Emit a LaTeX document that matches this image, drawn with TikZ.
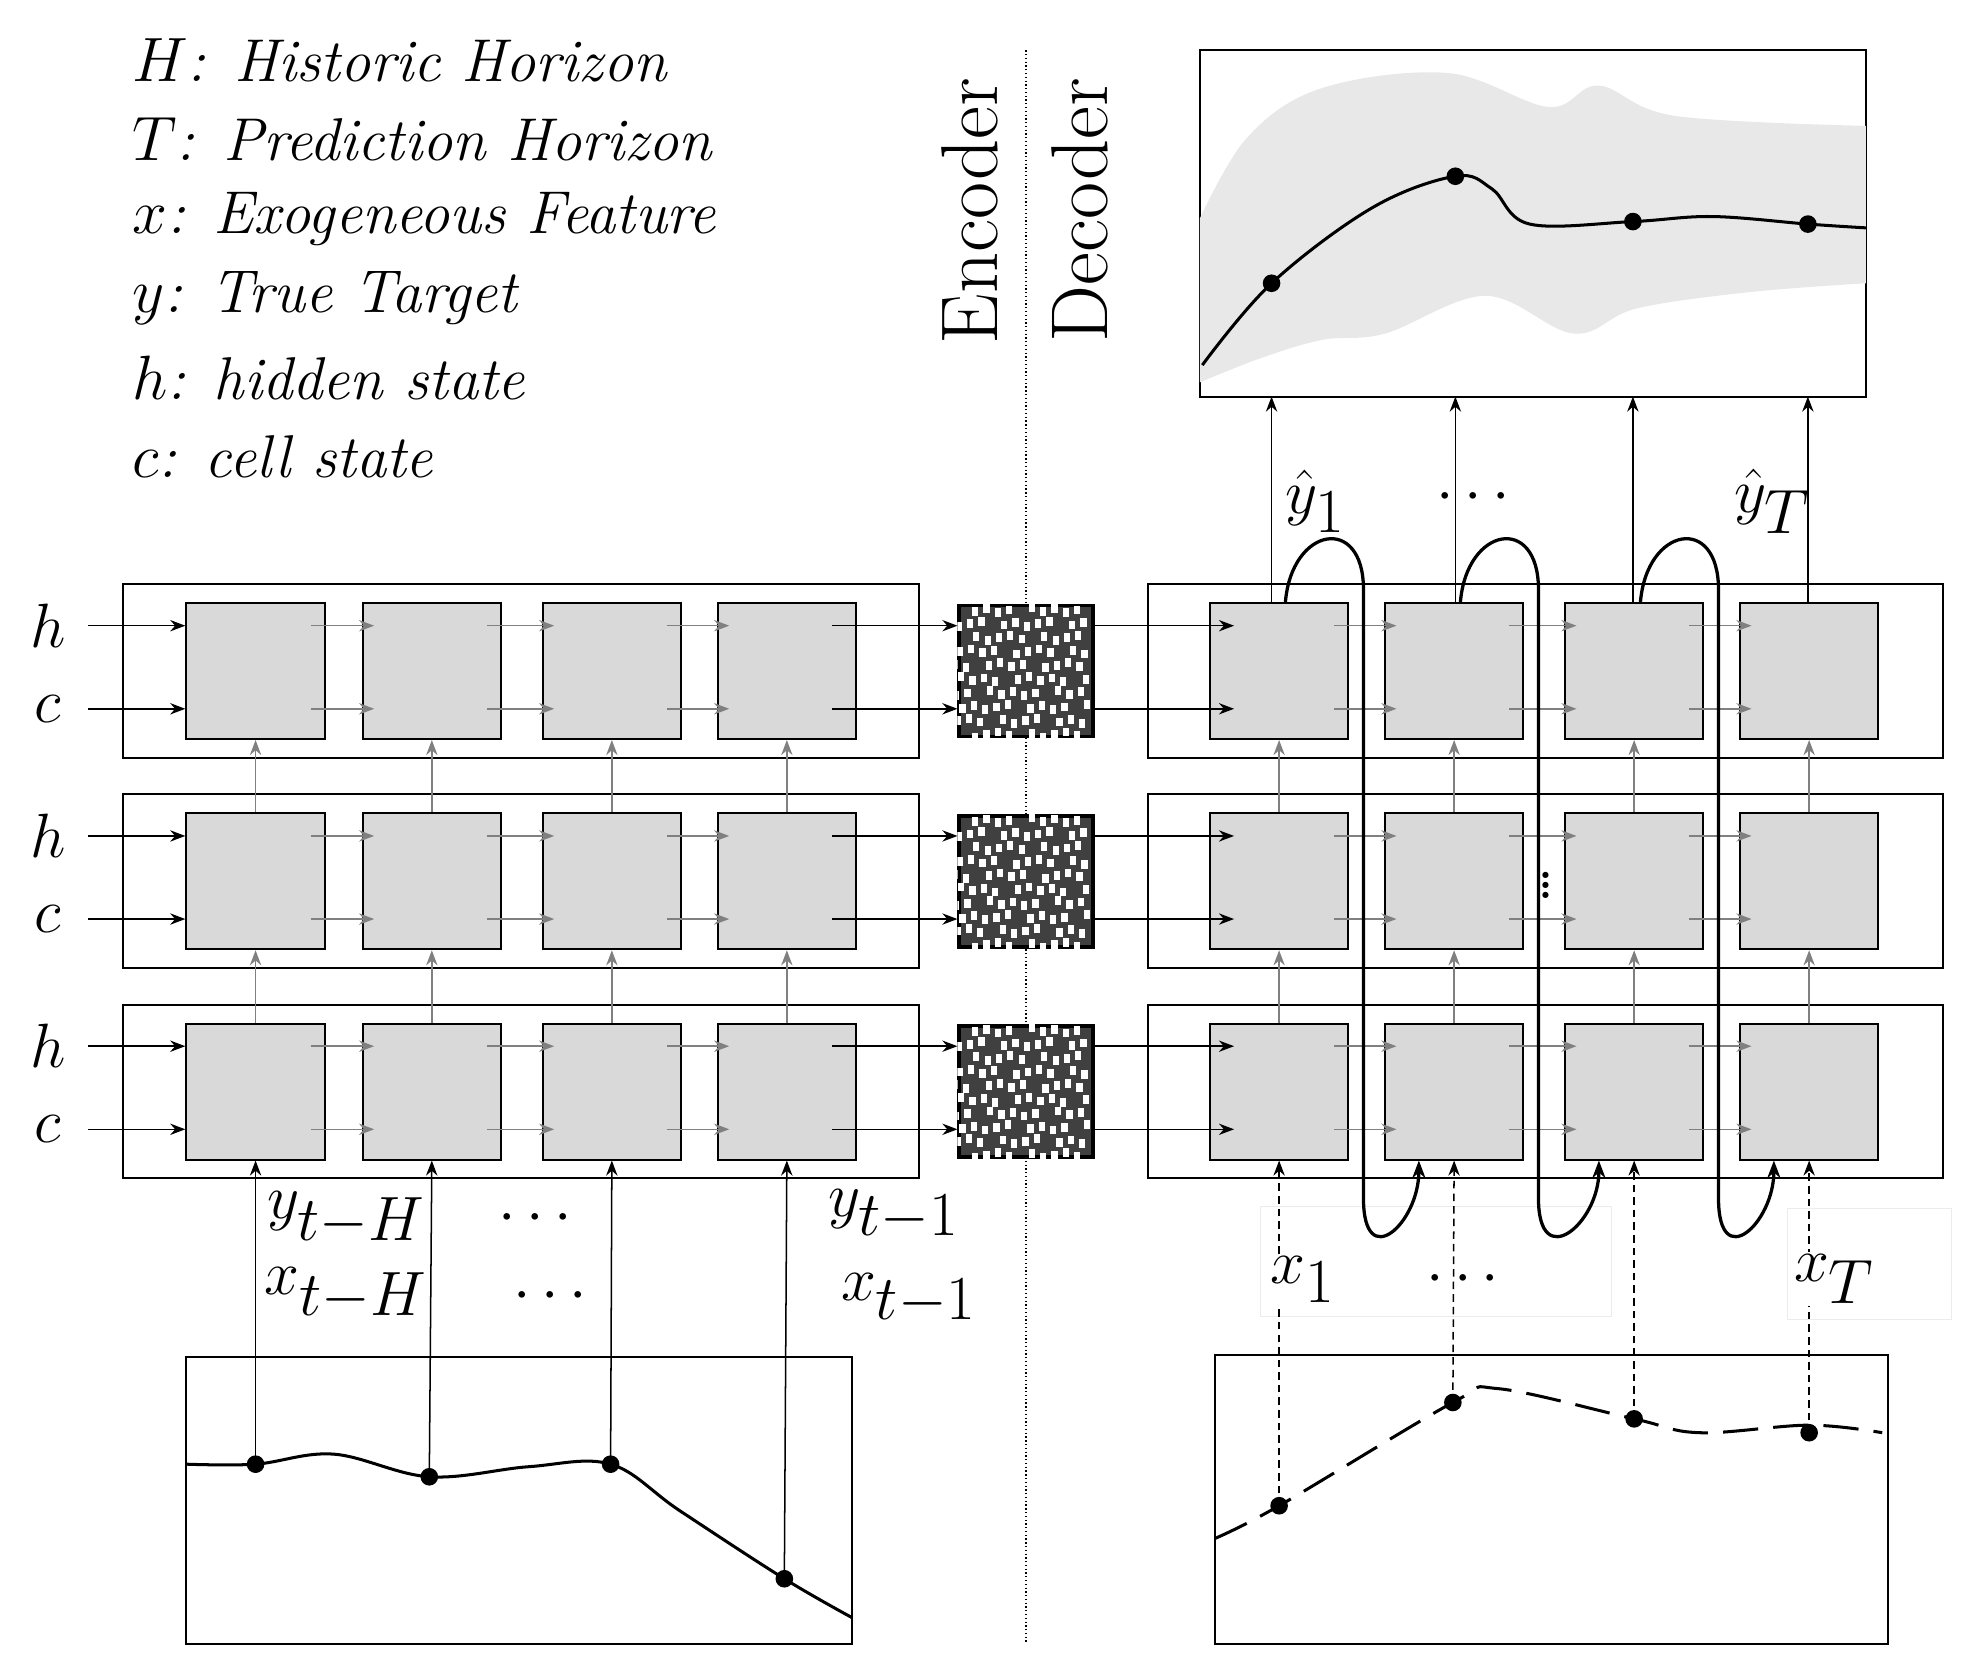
\documentclass[tikz,border=0pt]{standalone}
\usetikzlibrary{arrows.meta,calc}
\begin{document}
\begin{tikzpicture}[x=0.5pt,y=-0.5pt,
 cell/.style={draw,fill=gray!30,minimum width=55pt,minimum height=54pt,inner sep=0,line width=0.8pt},
 row/.style={draw,line width=0.8pt},
 blk/.style={-{Stealth[length=6pt]},line width=0.6pt},
 gblk/.style={-{Stealth[length=6pt]},line width=0.6pt,gray},
 lab/.style={font=\fontsize{28}{30}\selectfont},
 mlab/.style={font=\fontsize{33}{35}\selectfont},
 leg/.style={anchor=west,font=\fontsize{24}{26}\selectfont\itshape},
 dot/.style={circle,fill,inner sep=0,minimum size=7pt}]
\useasboundingbox (0,0) rectangle (1560,1325);
% legend
\foreach \t [count=\i] in {{$H$: Historic Horizon},{$T$: Prediction Horizon},{$x$: Exogeneous Feature},{$y$: True Target},{$h$: hidden state},{$c$: cell state}}
 \node[leg] (leg\i) at (98,{48+63*(\i-1)}) {\t};
\node[rotate=90,anchor=east,font=\fontsize{32}{34}\selectfont] (enc) at (770,55) {Encoder};
\node[rotate=90,anchor=east,font=\fontsize{32}{34}\selectfont] (dec) at (858,55) {Decoder};
\draw[densely dotted,line width=0.5pt] (815,40) -- (815,1305);
% rows
\foreach \r/\y in {1/533,2/700,3/867}{
 \draw[row] (98,\y-69) rectangle (730,\y+69);
 \draw[row] (912,\y-69) rectangle (1543,\y+69);
 \foreach \i/\x in {1/203,2/343,3/486,4/625}
  \node[cell] (e\r\i) at (\x,\y) {};
 \foreach \i/\x in {1/1016,2/1155,3/1298,4/1437}
  \node[cell] (d\r\i) at (\x,\y) {};
 % checker block
 \node[draw,line width=1.5pt,fill=black!75,minimum width=53pt,minimum height=52pt,inner sep=0] (k\r) at (815,\y) {};
 \begin{scope}
 \clip (k\r.south west) rectangle (k\r.north east);
 \foreach \a in {0,...,9}{\foreach \b in {0,...,9}{
   \pgfmathsetmacro{\ox}{mod(\a*7+\b*5,9)}
   \pgfmathsetmacro{\oy}{mod(\a*3+\b*4,5)}
   \fill[white] (758+\a*11+\ox-4,\y-54+\b*11+\oy) rectangle ++(5,7);}}
 \end{scope}
 \node[lab] (h\r) at (38,\y-36) {$h$};
 \node[lab] (c\r) at (38,\y+30) {$c$};
 \coordinate (hs\r) at (70,\y-36);
 \coordinate (cs\r) at (70,\y+30);
 \draw[blk] (hs\r) -- (e\r1.west|-hs\r);
 \draw[blk] (cs\r) -- (e\r1.west|-cs\r);
 \foreach \i/\j in {1/2,2/3,3/4}{
  \draw[gblk] ($(e\r\i.east|-hs\r)+(-12,0)$) -- ($(e\r\j.west|-hs\r)+(10,0)$);
  \draw[gblk] ($(e\r\i.east|-cs\r)+(-12,0)$) -- ($(e\r\j.west|-cs\r)+(10,0)$);
  \draw[gblk] ($(d\r\i.east|-hs\r)+(-12,0)$) -- ($(d\r\j.west|-hs\r)+(10,0)$);
  \draw[gblk] ($(d\r\i.east|-cs\r)+(-12,0)$) -- ($(d\r\j.west|-cs\r)+(10,0)$);}
 \draw[blk] ($(e\r4.east|-hs\r)+(-20,0)$) -- (k\r.west|-hs\r);
 \draw[blk] ($(e\r4.east|-cs\r)+(-20,0)$) -- (k\r.west|-cs\r);
 \draw[blk] (k\r.east|-hs\r) -- ($(d\r1.west|-hs\r)+(20,0)$);
 \draw[blk] (k\r.east|-cs\r) -- ($(d\r1.west|-cs\r)+(20,0)$);
}
% vertical between rows
\foreach \i in {1,2,3,4}{
 \draw[gblk] (e3\i.north) -- (e2\i.south);
 \draw[gblk] (e2\i.north) -- (e1\i.south);
 \draw[gblk] (d3\i.north) -- (d2\i.south);
 \draw[gblk] (d2\i.north) -- (d1\i.south);}
% bottom-left plot
\draw[line width=0.8pt] (148,1078) rectangle (677,1306);
\draw[line width=1.2pt] plot[smooth,tension=0.6] coordinates {(148,1163) (203,1163) (265,1155) (341,1173) (420,1165) (485,1163) (540,1200) (623,1254) (677,1285)};
\foreach \i/\x/\y in {1/203/1163,2/341/1173,3/485/1163,4/623/1254}{
 \node[dot] (p\i) at (\x,\y) {};
 \draw[blk] (p\i.center) -- (e3\i.south);}
\node[mlab] (yH) at (275,968) {$y_{t-H}$};
\node[mlab] (xH) at (275,1028) {$x_{t-H}$};
\node[mlab] (d1) at (425,968) {$\cdots$};
\node[mlab] (d2) at (437,1030) {$\cdots$};
\node[mlab] (y1e) at (710,965) {$y_{t-1}$};
\node[mlab] (x1e) at (722,1032) {$x_{t-1}$};
% bottom-right plot
\draw[line width=0.8pt] (965,1076) rectangle (1500,1306);
\draw[line width=1.2pt,dash pattern=on 14pt off 6pt] plot[smooth,tension=0.6] coordinates {(965,1222) (1016,1196) (1154,1114) (1190,1103) (1298,1127) (1350,1138) (1437,1132) (1495,1138)};
\fill[white,draw=gray!15] (1001,958) rectangle (1280,1046);
\fill[white,draw=gray!15] (1420,960) rectangle (1550,1048);
\foreach \i/\x/\y in {1/1016/1196,2/1154/1114,3/1298/1127,4/1437/1138}{
 \node[dot] (q\i) at (\x,\y) {};
 \draw[blk,densely dashed] (q\i.center) -- (d3\i.south);}
\node[mlab,fill=white,inner sep=1pt] (xd1) at (1035,1016) {$x_1$};
\node[mlab] (xdd) at (1162,1016) {$\cdots$};
\node[mlab,fill=white,inner sep=1pt] (xdT) at (1457,1016) {$x_T$};
% top-right plot
\draw[line width=0.8pt] (953,40) rectangle (1482,315);
\begin{scope}
\clip (953,40) rectangle (1482,315);
\fill[gray!18] plot[smooth,tension=0.6] coordinates {(950,180) (990,110) (1050,70) (1150,58) (1230,85) (1270,68) (1330,92) (1482,100)} -- plot[smooth,tension=0.6] coordinates {(1482,225) (1390,232) (1300,245) (1250,265) (1180,235) (1100,265) (1050,270) (1000,285) (950,305)} -- cycle;
\draw[line width=1.2pt] plot[smooth,tension=0.6] coordinates {(955,290) (1010,225) (1090,165) (1156,140) (1185,150) (1215,178) (1297,176) (1360,172) (1436,178) (1482,181)};
\end{scope}
\foreach \i/\x/\y in {1/1010/225,2/1156/140,3/1297/176,4/1436/178}{
 \node[dot] (r\i) at (\x,\y) {};
 \draw[blk] (d1\i.north-|r\i) -- (r\i|-0,315);}
\node[mlab] (yh1) at (1045,398) {$\hat{y}_1$};
\node[mlab] (yhd) at (1170,395) {$\cdots$};
\node[mlab] (yhT) at (1408,398) {$\hat{y}_T$};
% feedback loops
\foreach \i/\j in {1/2,2/3,3/4}{
 \draw[-{Stealth[length=7pt]},line width=1.3pt] ($(d1\i.north)+(5,0)$) .. controls +(5,-60) and +(0,-60) .. ($(d1\i.north)+(67,-10)$) -- ($(d3\i.south)+(67,30)$) .. controls +(0,60) and +(0,50) .. ($(d3\j.south)+(-28,0)$);}
\node[font=\fontsize{30}{30}\selectfont] (vd) at (1228,697) {$\vdots$};
\end{tikzpicture}
\end{document}
